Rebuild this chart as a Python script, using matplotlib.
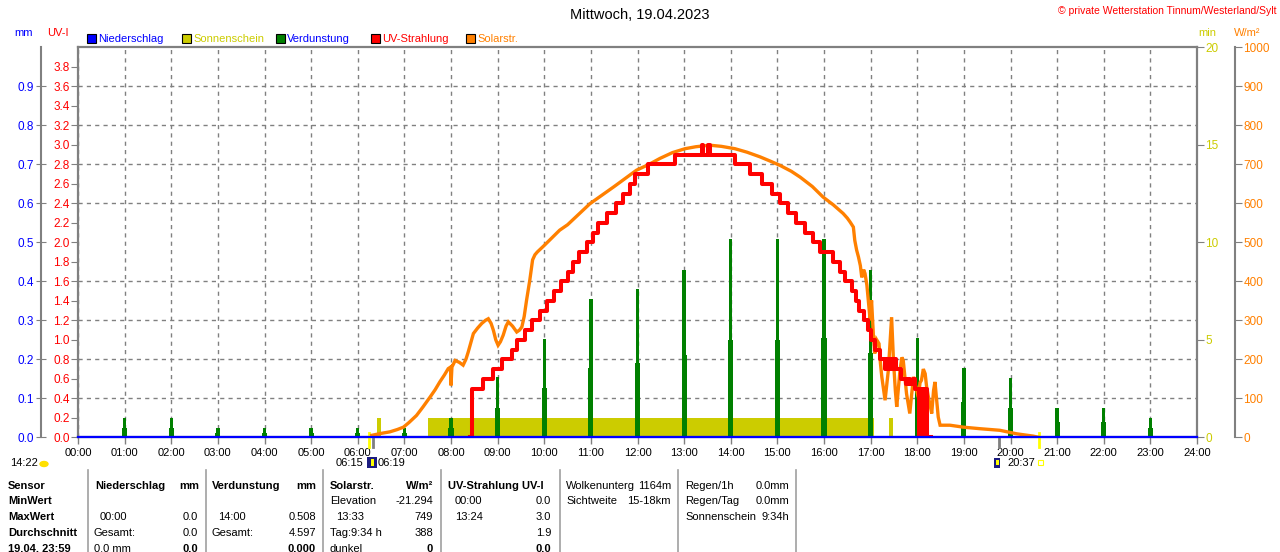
import numpy as np
import matplotlib
matplotlib.use("Agg")
import matplotlib.pyplot as plt
from matplotlib.patches import Rectangle, Ellipse
from matplotlib.lines import Line2D

plt.rcParams['font.family'] = ['Liberation Sans', 'DejaVu Sans']
plt.rcParams['font.size'] = 8

# --- data ---
hours = list(range(25))
hour_labels = ["%02d:00" % h for h in hours]

# Niederschlag (mm), nothing fell
rain_t = [0, 24]
rain_mm = [0.0, 0.0]

# Verdunstung (mm), hourly bars + the lower part drawn beside them
evap_hour = list(range(1, 24))
evap_mm = [0.05, 0.05, 0.025, 0.025, 0.025, 0.025, 0.025, 0.05, 0.154, 0.253,
           0.354, 0.38, 0.43, 0.508, 0.508, 0.508, 0.43, 0.254, 0.177, 0.151,
           0.075, 0.075, 0.05]
evap_mm_part = [0.025, 0.025, 0.012, 0.012, 0.012, 0.012, 0.012, 0.025, 0.076, 0.127,
                0.177, 0.19, 0.21, 0.25, 0.25, 0.254, 0.215, 0.127, 0.09, 0.076,
                0.04, 0.038, 0.025]

# Sonnenschein (min per minute)
sun_start = [6.42, 7.50, 17.40]
sun_end = [6.49, 17.07, 17.49]
sun_min = [1, 1, 1]

# UV-Strahlung (UV-I), step curve (rows of ten, same layout in both lists)
uv_t = [8.40, 8.44, 8.46, 8.69, 8.90, 9.09, 9.30, 9.41, 9.59, 9.74,
        9.91, 10.05, 10.20, 10.35, 10.50, 10.62, 10.75, 10.91, 11.05, 11.15,
        11.34, 11.54, 11.68, 11.84, 11.95, 12.23, 12.80, 13.38, 13.41, 13.52,
        13.55, 14.09, 14.41, 14.66, 14.88, 15.06, 15.23, 15.41, 15.60, 15.77,
        15.92, 16.20, 16.34, 16.45, 16.59, 16.68, 16.75, 16.85, 16.95, 17.00,
        17.10, 17.20, 17.30, 17.34, 17.38, 17.42, 17.46, 17.50, 17.55, 17.65,
        17.75, 17.80, 17.84, 17.90, 17.95, 18.03, 18.06, 18.09, 18.12, 18.15,
        18.18, 18.21, 18.30]
uv_i = [0.0, 0.2, 0.5, 0.6, 0.7, 0.8, 0.9, 1.0, 1.1, 1.2,
        1.3, 1.4, 1.5, 1.6, 1.7, 1.8, 1.9, 2.0, 2.1, 2.2,
        2.3, 2.4, 2.5, 2.6, 2.7, 2.8, 2.9, 3.0, 2.9, 3.0,
        2.9, 2.8, 2.7, 2.6, 2.5, 2.4, 2.3, 2.2, 2.1, 2.0,
        1.9, 1.8, 1.7, 1.6, 1.5, 1.4, 1.3, 1.2, 1.1, 1.0,
        0.9, 0.8, 0.7, 0.8, 0.7, 0.8, 0.7, 0.8, 0.7, 0.6,
        0.55, 0.6, 0.55, 0.6, 0.5, 0.0, 0.5, 0.1, 0.5, 0.0,
        0.5, 0.0, 0.0]

# Solarstrahlung (W/m2)
sol_t = [6.30, 6.50, 6.69, 6.85, 6.98, 7.10, 7.26, 7.40, 7.55, 7.66,
         7.76, 7.86, 7.94, 7.99, 8.00, 8.02, 8.09, 8.18, 8.26, 8.32,
         8.37, 8.43, 8.48, 8.57, 8.66, 8.74, 8.80, 8.86, 8.91, 8.96,
         9.01, 9.06, 9.12, 9.18, 9.23, 9.32, 9.41, 9.47, 9.52, 9.57,
         9.62, 9.69, 9.75, 9.80, 9.85, 10.00, 10.33, 10.50, 10.98, 11.50,
         11.98, 12.25, 12.48, 12.75, 13.02, 13.25, 13.55, 13.80, 14.09, 14.35,
         14.63, 14.85, 15.06, 15.30, 15.49, 15.75, 15.98, 16.20, 16.41, 16.50,
         16.56, 16.63, 16.66, 16.70, 16.74, 16.78, 16.81, 16.85, 16.88, 16.92,
         16.96, 16.99, 17.02, 17.06, 17.09, 17.13, 17.18, 17.21, 17.24, 17.28,
         17.31, 17.35, 17.38, 17.42, 17.45, 17.49, 17.53, 17.56, 17.60, 17.63,
         17.67, 17.70, 17.74, 17.77, 17.80, 17.84, 17.88, 17.92, 17.97, 18.02,
         18.06, 18.09, 18.13, 18.17, 18.20, 18.24, 18.28, 18.31, 18.35, 18.38,
         18.42, 18.45, 18.49, 18.70, 18.99, 19.35, 19.77, 20.13, 20.49, 20.60]
sol_w = [5, 10, 14, 20, 26, 38, 56, 78, 103, 122,
         142, 160, 176, 180, 133, 180, 197, 192, 185, 200,
         219, 245, 266, 280, 292, 300, 304, 292, 274, 250,
         236, 245, 262, 285, 296, 285, 270, 275, 283, 310,
         351, 403, 455, 468, 475, 492, 531, 545, 599, 643,
         685, 700, 715, 730, 740, 745, 749, 746, 740, 731,
         719, 708, 697, 682, 667, 643, 616, 596, 574, 562,
         552, 539, 505, 480, 462, 440, 410, 430, 420, 390,
         340, 300, 351, 260, 215, 250, 240, 190, 155, 120,
         95, 140, 172, 250, 308, 197, 120, 78, 130, 172,
         205, 197, 150, 112, 90, 61, 110, 155, 130, 103,
         140, 146, 175, 163, 130, 103, 80, 61, 120, 142,
         90, 52, 31, 31, 26, 22, 18, 9, 3, 0]

# sunrise / sunset marks below the time axis
sun_marks = [6.25, 20.617]
grey_marks = [6.317, 19.75]

W, H = 1280, 552
grey = '#808080'
c_blue = '#0000FF'
c_yel = '#CCCC00'
c_green = '#008000'
c_red = '#FF0000'
c_orange = '#FF8000'

fig = plt.figure(figsize=(12.8, 5.52), dpi=100)
x0, x1, y0, y1 = 78, 1197, 47.3, 437.3
ax_min = fig.add_axes([x0 / W, 1 - y1 / H, (x1 - x0) / W, (y1 - y0) / H])
ax_mm = ax_min.twinx()
ax_sol = ax_min.twinx()
ax_uv = ax_min.twinx()
ax_rain = ax_min.twinx()

# host axes: time axis, frame, grid, sunshine (min)
ax_min.set_xlim(0, 24)
ax_min.set_ylim(0, 20)
for s in ax_min.spines.values():
    s.set_color(grey)
    s.set_linewidth(1.6)
ax_min.set_xticks(hours)
ax_min.set_xticklabels(hour_labels)
ax_min.tick_params(axis='x', length=5, color=grey, width=1, pad=3, labelsize=8)
ax_min.yaxis.tick_right()
ax_min.set_yticks([0, 5, 10, 15, 20])
ax_min.tick_params(axis='y', length=5, color=grey, labelcolor=c_yel, pad=1, labelsize=8.5)
ax_min.set_yticks(np.arange(2, 20, 2), minor=True)
ax_min.tick_params(axis='y', which='minor', length=0)
ax_min.grid(which='minor', axis='y', color=grey, lw=1, ls=(0, (3, 3)))
ax_min.grid(which='major', axis='x', color=grey, lw=1, ls=(0, (3, 3)))
ax_min.bar(sun_start, sun_min, width=np.array(sun_end) - np.array(sun_start),
           align='edge', color=c_yel, linewidth=0)

for t in sun_marks:
    ax_min.plot([t, t], [-0.026, 0.01], transform=ax_min.get_xaxis_transform(),
                color='#FFFF00', lw=2, clip_on=False, zorder=6)
for t in grey_marks:
    ax_min.plot([t, t], [-0.026, 0.0], transform=ax_min.get_xaxis_transform(),
                color=grey, lw=2, clip_on=False, zorder=6)

# mm axis (far left)
ax_mm.set_ylim(0, 1.0)
for s in ax_mm.spines.values():
    s.set_visible(False)
ax_mm.spines['left'].set_visible(True)
ax_mm.spines['left'].set_position(('axes', (40.5 - x0) / (x1 - x0)))
ax_mm.spines['left'].set_color(grey)
ax_mm.spines['left'].set_linewidth(1.5)
ax_mm.yaxis.tick_left()
ax_mm.set_yticks(np.arange(0, 10) / 10)
ax_mm.set_yticklabels(["%.1f" % v for v in np.arange(0, 10) / 10])
ax_mm.tick_params(axis='y', direction='inout', length=7, color=grey, labelcolor=c_blue,
                  pad=1, labelsize=8.5)
ax_mm.bar(evap_hour, evap_mm_part, width=0.11, color=c_green, linewidth=0)
ax_mm.bar(evap_hour, evap_mm, width=0.075, color=c_green, linewidth=0)

# W/m2 axis (far right)
ax_sol.set_ylim(0, 1000)
for s in ax_sol.spines.values():
    s.set_visible(False)
ax_sol.spines['right'].set_visible(True)
ax_sol.spines['right'].set_position(('axes', (1235 - x0) / (x1 - x0)))
ax_sol.spines['right'].set_color(grey)
ax_sol.spines['right'].set_linewidth(1.5)
ax_sol.set_yticks(range(0, 1001, 100))
ax_sol.tick_params(axis='y', length=5, color=grey, labelcolor=c_orange, pad=1, labelsize=8.5)
ax_sol.plot(sol_t, sol_w, color=c_orange, lw=2.4, solid_joinstyle='miter')

# UV-I axis (left of plot)
ax_uv.set_ylim(0, 4.0)
for s in ax_uv.spines.values():
    s.set_visible(False)
ax_uv.yaxis.tick_left()
ax_uv.set_yticks(np.arange(0, 20) / 5)
ax_uv.set_yticklabels(["%.1f" % v for v in np.arange(0, 20) / 5])
ax_uv.tick_params(axis='y', length=5, color=grey, labelcolor=c_red, pad=1, labelsize=8.5)
ax_uv.plot(uv_t, uv_i, color=c_red, lw=2.9, drawstyle='steps-post')

# Niederschlag zero line on top
ax_rain.set_ylim(0, 1.0)
ax_rain.axis('off')
ax_rain.plot(rain_t, rain_mm, color=c_blue, lw=1.6, clip_on=False)


def ftext(x, y, s, **kw):
    kw.setdefault('va', 'center')
    fig.text(x / W, 1 - y / H, s, **kw)


def fbox(x, y, w, h, fc, ec='none', lw=0.8):
    fig.patches.append(Rectangle((x / W, 1 - (y + h) / H), w / W, h / H, facecolor=fc,
                                 edgecolor=ec, linewidth=lw, transform=fig.transFigure))


# header
ftext(640, 15, 'Mittwoch, 19.04.2023', ha='center', fontsize=10.5)
ftext(1277, 11, '\u00a9 private Wetterstation Tinnum/Westerland/Sylt', ha='right',
      color=c_red, fontsize=7.5)
ftext(14, 33, 'mm', color=c_blue)
ftext(47, 33, 'UV-I', color=c_red)
ftext(1198, 33, 'min', color=c_yel)
ftext(1234, 33, 'W/m\u00b2', color=c_orange)

legend = [('Niederschlag', c_blue, c_blue, 91), ('Sonnenschein', c_yel, c_yel, 186),
          ('Verdunstung', c_green, c_blue, 280), ('UV-Strahlung', c_red, c_red, 375),
          ('Solarstr.', c_orange, c_orange, 470)]
for name, fc, tc, lx in legend:
    fbox(lx - 4, 34, 9, 9, fc, ec='black')
    ftext(lx + 7, 38.5, name, color=tc, fontsize=8)

# sun info below the time axis
ftext(10, 463, '14:22', fontsize=8)
fig.patches.append(Ellipse((44 / W, 1 - 464 / H), 8 / W, 5 / H, color='#FFE000',
                           transform=fig.transFigure))
ftext(336, 463, '06:15', fontsize=8)
fbox(367, 457, 10, 11, '#1C1C80')
fbox(371, 459, 3, 7, '#FFFF00')
ftext(378, 463, '06:19', fontsize=8)
fbox(994, 458, 6, 10, '#1C1C80')
fbox(996, 460, 3, 5, '#FFFF00')
ftext(1007, 463, '20:37', fontsize=8)
fbox(1038, 460, 5, 5, 'none', ec='#FFFF00', lw=0.8)

# summary table
for lx in [88, 205.5, 323, 441, 559.5, 677.5, 796]:
    fig.add_artist(Line2D([lx / W, lx / W], [1 - 470 / H, 0], color='#A0A0A0', lw=1.2,
                          transform=fig.transFigure))

rows = [485.7, 500.7, 516.7, 532.7, 548.7]
bold = dict(fontweight='bold', fontsize=8)
for r, s in zip(rows, ['Sensor', 'MinWert', 'MaxWert', 'Durchschnitt', '19.04. 23:59']):
    ftext(8, r, s, **bold)

ftext(95, rows[0], 'Niederschlag', **bold)
ftext(199, rows[0], 'mm', ha='right', **bold)
ftext(100, rows[2], '00:00')
ftext(198, rows[2], '0.0', ha='right')
ftext(94, rows[3], 'Gesamt:')
ftext(198, rows[3], '0.0', ha='right')
ftext(94, rows[4], '0.0 mm')
ftext(198, rows[4], '0.0', ha='right', **bold)

ftext(212, rows[0], 'Verdunstung', **bold)
ftext(316, rows[0], 'mm', ha='right', **bold)
ftext(218, rows[2], '14:00')
ftext(316, rows[2], '0.508', ha='right')
ftext(212, rows[3], 'Gesamt:')
ftext(316, rows[3], '4.597', ha='right')
ftext(316, rows[4], '0.000', ha='right', **bold)

ftext(330, rows[0], 'Solarstr.', **bold)
ftext(433, rows[0], 'W/m\u00b2', ha='right', **bold)
ftext(330, rows[1], 'Elevation')
ftext(433, rows[1], '-21.294', ha='right')
ftext(336, rows[2], '13:33')
ftext(433, rows[2], '749', ha='right')
ftext(330, rows[3], 'Tag:9:34 h')
ftext(433, rows[3], '388', ha='right')
ftext(330, rows[4], 'dunkel')
ftext(433, rows[4], '0', ha='right', **bold)

ftext(448, rows[0], 'UV-Strahlung UV-I', **bold)
ftext(455, rows[1], '00:00')
ftext(551, rows[1], '0.0', ha='right')
ftext(455, rows[2], '13:24')
ftext(551, rows[2], '3.0', ha='right')
ftext(551, rows[3], '1.9', ha='right')
ftext(551, rows[4], '0.0', ha='right', **bold)

ftext(566, rows[0], 'Wolkenunterg')
ftext(671, rows[0], '1164m', ha='right')
ftext(566, rows[1], 'Sichtweite')
ftext(671, rows[1], '15-18km', ha='right')

ftext(685, rows[0], 'Regen/1h')
ftext(789, rows[0], '0.0mm', ha='right')
ftext(685, rows[1], 'Regen/Tag')
ftext(789, rows[1], '0.0mm', ha='right')
ftext(685, rows[2], 'Sonnenschein')
ftext(789, rows[2], '9:34h', ha='right')

fig.savefig('out.png', dpi=100)
